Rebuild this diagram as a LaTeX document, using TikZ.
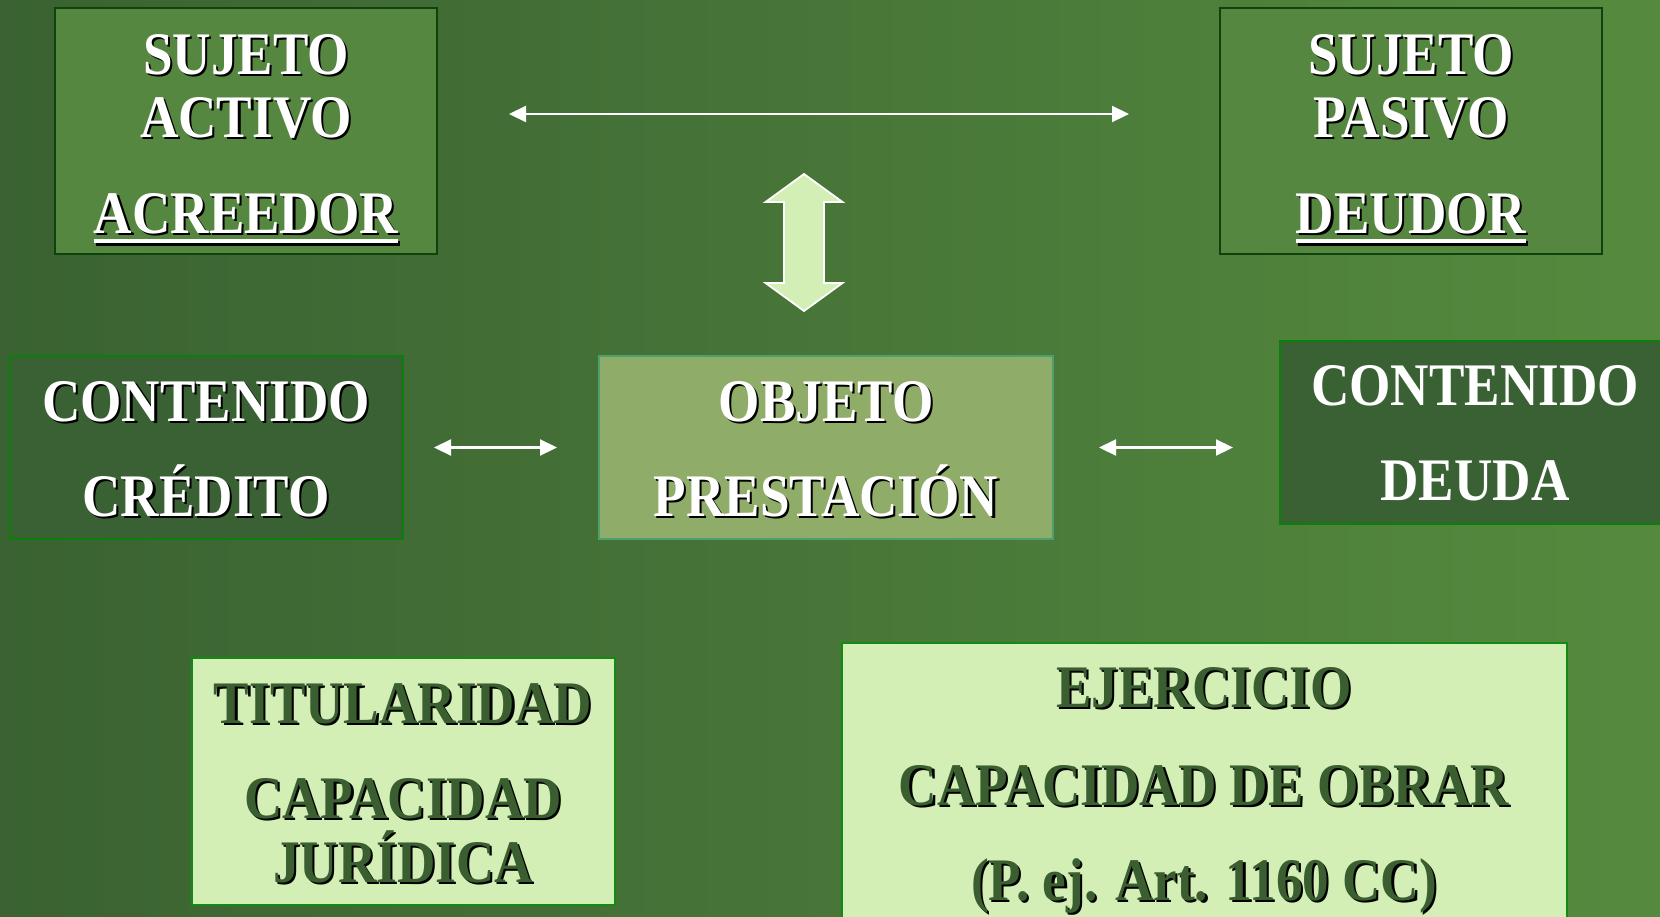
\documentclass[tikz,border=0pt]{standalone}
\usepackage{fontspec}
\newfontfamily\tnr{Liberation Serif}[FakeStretch=0.88]
\usetikzlibrary{arrows.meta,calc}
\definecolor{bgL}{HTML}{3A6232}
\definecolor{bgR}{HTML}{558A3E}
\definecolor{sjF}{HTML}{568741}
\definecolor{sjD}{HTML}{0E430C}
\definecolor{ctF}{HTML}{3A6134}
\definecolor{ctD}{HTML}{0A800A}
\definecolor{obF}{HTML}{8FAD68}
\definecolor{obD}{HTML}{4BA06E}
\definecolor{ltF}{HTML}{D3EFB6}
\definecolor{ltD}{HTML}{138A13}
\definecolor{dkT}{HTML}{3A5E30}
\newcommand\shd[2][white]{{\rlap{\kern1.1pt\raisebox{-1.1pt}{\color{black}#2}}\color{#1}#2}}
\newcommand\ulin[1]{\setbox0\hbox{#1}\rlap{\rule[-5.2pt]{\wd0}{2.2pt}}\box0\relax}
\begin{document}
\begin{tikzpicture}[x=0.5pt,y=-0.5pt,
  box/.style={rectangle, inner sep=0pt, outer sep=0pt, line width=1.3pt},
  ln/.style={anchor=base, inner sep=0pt, font=\tnr\bfseries\fontsize{30.2}{31.5}\selectfont},
  wa/.style={draw=white, line width=1.1pt, {Triangle[length=8.5pt,width=8pt]}-{Triangle[length=8.5pt,width=8pt]}}]
\useasboundingbox (0,0) rectangle (1660,916);
\clip (0,0) rectangle (1660,916);
\shade[left color=bgL, right color=bgR] (0,0) rectangle (1660,916);

% top boxes
\node[box, fill=sjF, draw=sjD, minimum width=191pt, minimum height=123pt] (sa) at (246,131) {};
\node[box, fill=sjF, draw=sjD, minimum width=191pt, minimum height=123pt] (sp) at (1411,131) {};
\node[ln] (sa1) at (246,74) {\shd{SUJETO}};
\node[ln] (sa2) at (246,137) {\shd{ACTIVO}};
\node[ln] (sa3) at (246,233) {\shd{\ulin{ACREEDOR}}};
\node[ln] (sp1) at (1411,74) {\shd{SUJETO}};
\node[ln] (sp2) at (1411,137) {\shd{PASIVO}};
\node[ln] (sp3) at (1411,233) {\shd{\ulin{DEUDOR}}};

% middle row
\node[box, fill=ctF, draw=ctD, minimum width=196.5pt, minimum height=91.5pt] (cc) at (206.5,447.5) {};
\node[box, fill=obF, draw=obD, minimum width=227pt, minimum height=91.5pt] (ob) at (826,447.5) {};
\node[box, fill=ctF, draw=ctD, minimum width=200pt, minimum height=91.5pt] (cd) at (1480,432.5) {};
\node[ln] (cc1) at (206,421) {\shd{CONTENIDO}};
\node[ln] (cc2) at (206,516) {\shd{CRÉDITO}};
\node[ln] (ob1) at (826,421) {\shd{OBJETO}};
\node[ln] (ob2) at (826,516) {\shd{PRESTACIÓN}};
\node[ln, text=white] (cd1) at (1475,405) {CONTENIDO};
\node[ln, text=white] (cd2) at (1475,500) {DEUDA};

% bottom boxes
\node[box, fill=ltF, draw=ltD, minimum width=211.5pt, minimum height=123.5pt] (ti) at (403.5,781.5) {};
\node[box, fill=ltF, draw=ltD, minimum width=362.5pt, minimum height=148.5pt] (ej) at (1204.5,791.5) {};
\node[ln] (ti1) at (403,723) {\shd[dkT]{TITULARIDAD}};
\node[ln] (ti2) at (403,818) {\shd[dkT]{CAPACIDAD}};
\node[ln] (ti3) at (403,882) {\shd[dkT]{JURÍDICA}};
\node[ln] (ej1) at (1204,707) {\shd[dkT]{EJERCICIO}};
\node[ln] (ej2) at (1204,805) {\shd[dkT]{CAPACIDAD DE OBRAR}};
\node[ln] (ej3) at (1204,900) {\shd[dkT]{(P. ej. Art. 1160 CC)}};

% connectors
\draw[wa] ([shift={(72,-17)}]sa.east) -- ([shift={(-91,-17)}]sp.west);
\draw[wa] ([xshift=15.5pt]cc.east) -- ([xshift=-21pt]ob.west);
\draw[wa] ([xshift=23pt]ob.east) -- ([xshift=-23.5pt]ob.east -| cd.west);

% double block arrow
\draw[white, line width=0.9pt, fill=ltF, line join=miter]
  (804,174) -- (842.5,202) -- (824,202) -- (824,283) -- (842.5,283) -- (804,311)
  -- (765.5,283) -- (784,283) -- (784,202) -- (765.5,202) -- cycle;
\end{tikzpicture}
\end{document}
